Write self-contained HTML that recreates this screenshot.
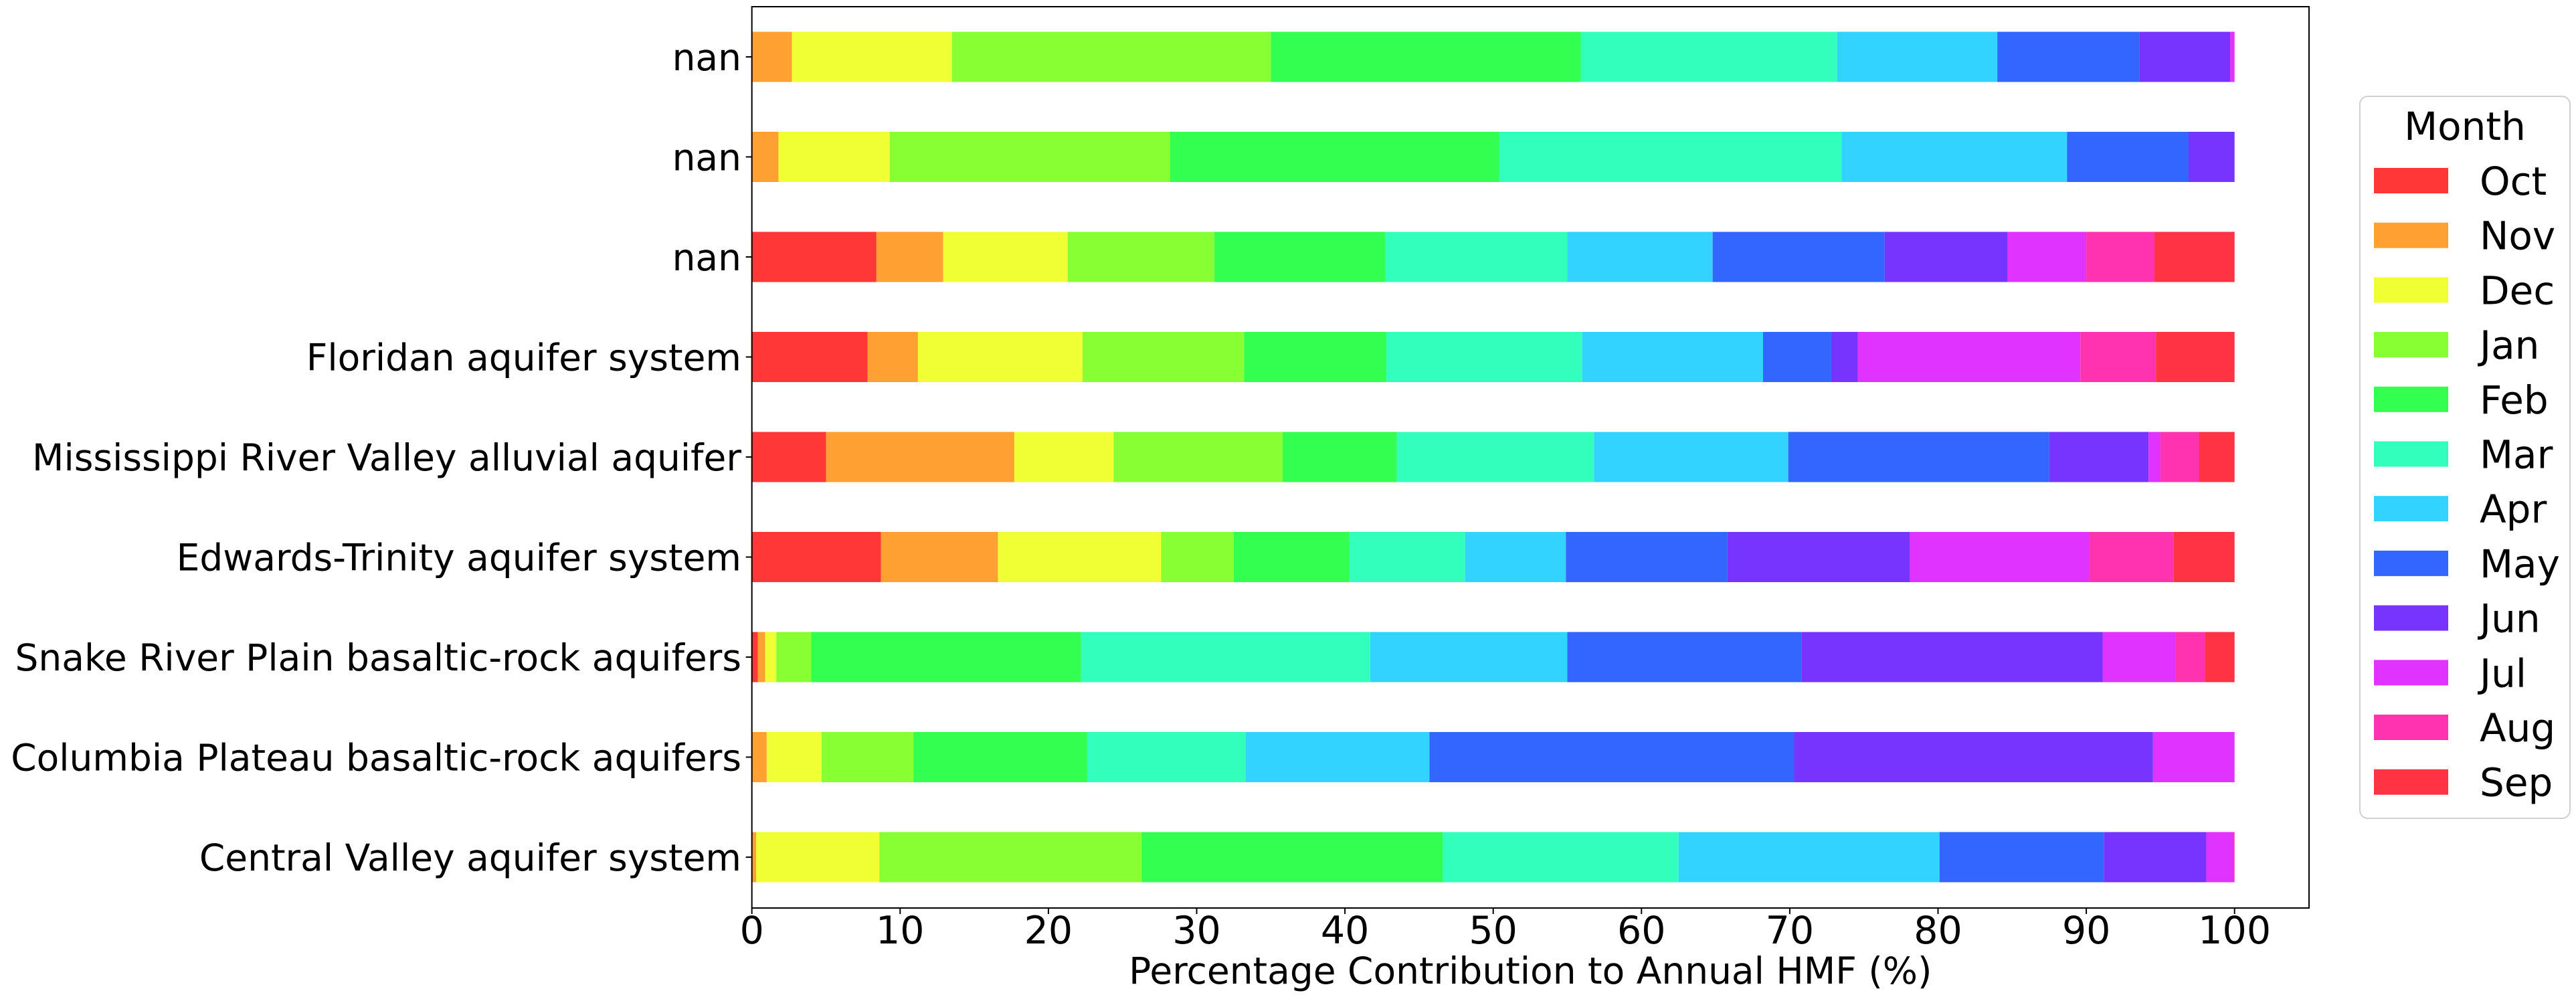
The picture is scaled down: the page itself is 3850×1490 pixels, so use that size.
<!DOCTYPE html>
<html><head><meta charset="utf-8"><style>
html,body{margin:0;padding:0;background:#fff;}
svg{display:block;font-family:"DejaVu Sans","Liberation Sans",sans-serif;}
</style></head><body>
<svg id="chart" width="3850" height="1490" viewBox="0 0 3850 1490" xmlns="http://www.w3.org/2000/svg">
<g id="bars"></g>
<g id="axes"></g>
<g id="legend"></g>
</svg>
<script>
const categories = ["Central Valley aquifer system","Columbia Plateau basaltic-rock aquifers","Snake River Plain basaltic-rock aquifers","Edwards-Trinity aquifer system","Mississippi River Valley alluvial aquifer","Floridan aquifer system","nan","nan","nan"];
const months = ["Oct","Nov","Dec","Jan","Feb","Mar","Apr","May","Jun","Jul","Aug","Sep"];
const monthColors = ["#ff3737","#ffa033","#f0ff33","#88ff33","#33ff50","#33ffbd","#33d3ff","#3366ff","#7733ff","#e033ff","#ff33b0","#ff3344"];
const centralValley = [0,0.3,8.3,17.7,20.3,15.9,17.6,11.1,6.9,1.8,0.1,0];
const columbiaPlateau = [0,1.0,3.7,6.2,11.7,10.7,12.4,24.6,24.2,5.5,0,0];
const snakeRiver = [0.4,0.5,0.75,2.35,18.2,19.5,13.3,15.8,20.3,4.9,2.0,2.0];
const edwardsTrinity = [8.7,7.9,11.0,4.9,7.8,7.8,6.8,10.9,12.3,12.1,5.7,4.1];
const mississippi = [5.0,12.7,6.7,11.4,7.7,13.3,13.1,17.6,6.7,0.8,2.6,2.4];
const floridan = [7.8,3.4,11.1,10.9,9.6,13.2,12.2,4.6,1.8,15.0,5.1,5.3];
const nanA = [8.4,4.5,8.4,9.9,11.5,12.3,9.8,11.6,8.3,5.3,4.6,5.4];
const nanB = [0,1.8,7.5,18.9,22.2,23.1,15.2,8.2,3.1,0,0,0];
const nanC = [0,2.7,10.8,21.5,20.9,17.3,10.8,9.6,6.1,0.3,0,0];
const seriesRows = [centralValley,columbiaPlateau,snakeRiver,edwardsTrinity,mississippi,floridan,nanA,nanB,nanC];
const xTicks = [0,10,20,30,40,50,60,70,80,90,100];

const NS = "http://www.w3.org/2000/svg";
const L = 1123.7, R = 3451, T = 10, B = 1357;
const xScale = v => L + v * 22.16;
const yScale = i => B - 76 - i * 149.5; // center of category i
const barH = 75;
function mk(tag, attrs, parent){const e=document.createElementNS(NS,tag);for(const k in attrs)e.setAttribute(k,attrs[k]);parent.appendChild(e);return e;}

const gb = document.getElementById('bars');
seriesRows.forEach((row, i) => {
  let acc = 0;
  row.forEach((v, m) => {
    const r = mk('rect', {x: xScale(acc), y: yScale(i) - barH/2, width: Math.max(0, xScale(acc+v)-xScale(acc)), height: barH, fill: monthColors[m]}, gb);
    
    
    acc += v;
  });
});

const ga = document.getElementById('axes');
const frame = mk('rect', {x: L, y: T, width: R-L, height: B-T, fill: 'none', stroke: '#000', 'stroke-width': 2}, ga);


xTicks.forEach(t => {
  const x = xScale(t);
  mk('line', {x1: x, y1: B, x2: x, y2: B+9, stroke: '#000', 'stroke-width': 2}, ga);
  const tx = mk('text', {x: x, y: 1410, 'font-size': 57, 'text-anchor': 'middle'}, ga);
  tx.textContent = t;
  
  
});
categories.forEach((c, i) => {
  const y = yScale(i);
  mk('line', {x1: L-9, y1: y, x2: L, y2: y, stroke: '#000', 'stroke-width': 2}, ga);
  const tx = mk('text', {x: 1108, y: y + 20, 'font-size': 55, 'text-anchor': 'end'}, ga);
  tx.textContent = c;
  
  
});
const xl = mk('text', {x: (L + R)/2, y: 1470, 'font-size': 55, 'text-anchor': 'middle'}, ga);
xl.textContent = 'Percentage Contribution to Annual HMF (%)';



const gl = document.getElementById('legend');
const box = mk('rect', {x: 3527, y: 144, width: 314, height: 1079, rx: 12, fill: '#fff', stroke: '#d0d0d0', 'stroke-width': 2}, gl);


const lt = mk('text', {x: 3684, y: 209, 'font-size': 58, 'text-anchor': 'middle'}, gl);
lt.textContent = 'Month';


months.forEach((m, k) => {
  const cy = 270 + k * 81.7;
  const g = mk('g', {}, gl);
  
  
  mk('rect', {x: 3548, y: cy - 19, width: 111, height: 38, fill: monthColors[k]}, g);
  const t = mk('text', {x: 3706, y: cy + 21, 'font-size': 58}, g);
  t.textContent = m;
});
</script>
</body></html>
